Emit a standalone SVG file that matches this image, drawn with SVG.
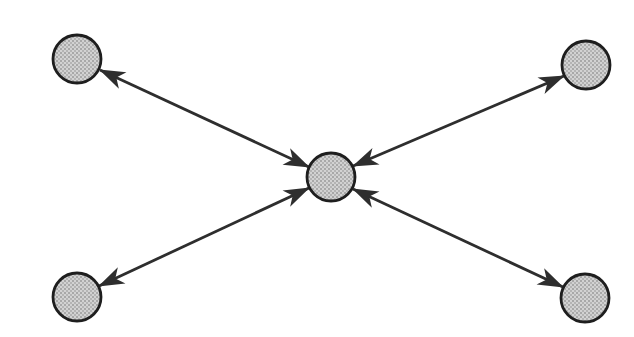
<svg xmlns="http://www.w3.org/2000/svg" width="634" height="337" viewBox="0 0 634 337">
  <defs>
    <pattern id="dots" width="4" height="4" patternUnits="userSpaceOnUse">
      <rect width="4" height="4" fill="#d2d2d2"/>
      <rect x="0" y="0" width="2" height="2" fill="#a8a8a8"/>
      <rect x="2" y="2" width="2" height="2" fill="#b4b4b4"/>
    </pattern>
    <marker id="head" markerUnits="userSpaceOnUse" markerWidth="30" markerHeight="22" viewBox="-28 -11 30 22" refX="0" refY="0" orient="auto-start-reverse">
      <path d="M1,0 L-25,-9 L-18,0 L-25,9 Z" fill="#2e2e2e"/>
    </marker>
  </defs>
  <style>
    .node { fill: url(#dots); stroke: #1e1e1e; stroke-width: 2.8; }
    .link { stroke: #2e2e2e; stroke-width: 2.8; fill: none; marker-start: url(#head); marker-end: url(#head); }
  </style>
  <rect width="634" height="337" fill="#ffffff"/>
  <g id="connectors">
    <line class="link" x1="100" y1="70" x2="309" y2="167"/>
    <line class="link" x1="564" y1="76" x2="353" y2="166"/>
    <line class="link" x1="99" y1="286" x2="309" y2="188"/>
    <line class="link" x1="563" y1="287" x2="353" y2="189"/>
  </g>
  <g id="node-center"><circle class="node" cx="331" cy="177" r="24"/></g>
  <g id="node-top-left"><circle class="node" cx="77" cy="59" r="24"/></g>
  <g id="node-top-right"><circle class="node" cx="586" cy="65" r="24"/></g>
  <g id="node-bottom-left"><circle class="node" cx="77" cy="297" r="24"/></g>
  <g id="node-bottom-right"><circle class="node" cx="585" cy="298" r="24"/></g>
</svg>
